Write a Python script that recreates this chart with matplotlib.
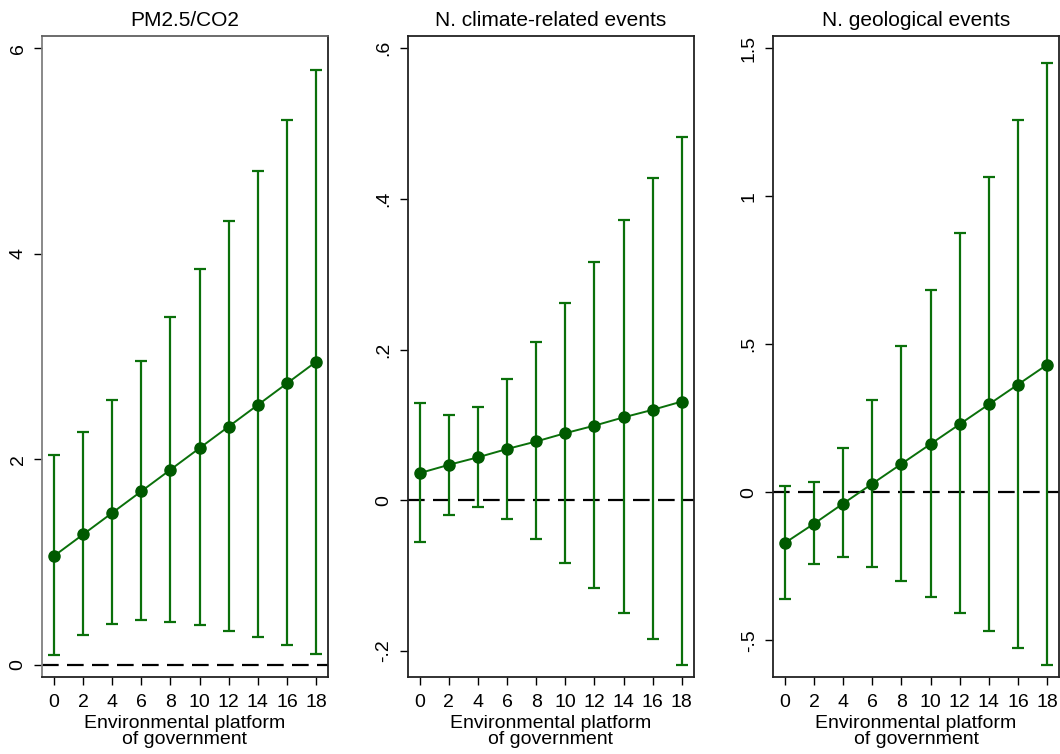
import matplotlib
matplotlib.use("Agg")
import matplotlib.pyplot as plt
import numpy as np

plt.rcParams['font.family'] = ['Liberation Sans', 'DejaVu Sans']

platform = [0, 2, 4, 6, 8, 10, 12, 14, 16, 18]
xticks = [0, 2, 4, 6, 8, 10, 12, 14, 16, 18]

titles = ["PM2.5/CO2", "N. climate-related events", "N. geological events"]

pm_est = [1.06, 1.27, 1.48, 1.69, 1.90, 2.11, 2.32, 2.53, 2.74, 2.95]
pm_hi = [2.04, 2.27, 2.575, 2.96, 3.39, 3.85, 4.32, 4.81, 5.30, 5.79]
pm_lo = [0.10, 0.29, 0.40, 0.435, 0.42, 0.386, 0.33, 0.27, 0.19, 0.11]

cl_est = [0.036, 0.047, 0.057, 0.068, 0.078, 0.089, 0.099, 0.110, 0.120, 0.131]
cl_hi = [0.129, 0.113, 0.124, 0.161, 0.210, 0.262, 0.316, 0.372, 0.427, 0.482]
cl_lo = [-0.056, -0.019, -0.009, -0.025, -0.052, -0.083, -0.116, -0.150, -0.184, -0.219]

ge_est = [-0.171, -0.106, -0.038, 0.029, 0.096, 0.163, 0.230, 0.297, 0.364, 0.431]
ge_hi = [0.020, 0.036, 0.148, 0.313, 0.495, 0.684, 0.875, 1.066, 1.258, 1.451]
ge_lo = [-0.359, -0.242, -0.219, -0.252, -0.299, -0.353, -0.409, -0.468, -0.526, -0.584]

yticks = [[0, 2, 4, 6], [-0.2, 0, 0.2, 0.4, 0.6], [-0.5, 0, 0.5, 1, 1.5]]
yticklabels = [["0", "2", "4", "6"], ["-.2", "0", ".2", ".4", ".6"], ["-.5", "0", ".5", "1", "1.5"]]
ylims = [(-0.117, 6.12), (-0.2345, 0.616), (-0.624, 1.5415)]

series = [(pm_est, pm_lo, pm_hi), (cl_est, cl_lo, cl_hi), (ge_est, ge_lo, ge_hi)]

fig = plt.figure(figsize=(10.6, 7.54), dpi=100)
lefts = [42 / 1060, 407.7 / 1060, 773 / 1060]
width = 286 / 1060
bottom = 1 - 677 / 754
height = (677 - 36) / 754

line_col = '#0a700a'
mark_col = '#005a00'

for i in range(3):
    ax = fig.add_axes([lefts[i], bottom, width, height])
    est, lo, hi = series[i]
    est = np.array(est); lo = np.array(lo); hi = np.array(hi)
    ax.axhline(0, color='black', lw=1.6, dashes=(7.5, 3.75), zorder=1)
    ax.errorbar(platform, est, yerr=[est - lo, hi - est], fmt='none',
                ecolor=line_col, elinewidth=1.6, capsize=4, capthick=1.6, zorder=2)
    ax.plot(platform, est, color=line_col, lw=1.4, marker='o', markersize=8,
            markerfacecolor=mark_col, markeredgecolor=mark_col, zorder=3)
    ax.set_xlim(-0.82, 18.82)
    ax.set_ylim(*ylims[i])
    ax.set_xticks(xticks)
    ax.set_xticklabels([str(t) for t in xticks], fontsize=14)
    ax.set_yticks(yticks[i])
    ax.set_yticklabels(yticklabels[i], fontsize=14, rotation=90, va='center')
    ax.tick_params(axis='x', direction='out', length=6, width=1, pad=6)
    ax.tick_params(axis='y', direction='out', length=6, width=1, pad=5)
    ax.set_title(titles[i], fontsize=15, pad=7)
    ax.set_xlabel("Environmental platform\nof government", fontsize=14, labelpad=3,
                  linespacing=0.92)
    for s in ax.spines.values():
        s.set_linewidth(1.3)
        s.set_color('#222222')
    if i == 0:
        ax.spines['left'].set_color('#808080')
        ax.spines['top'].set_color('#606060')

fig.savefig("out.png", dpi=100)
